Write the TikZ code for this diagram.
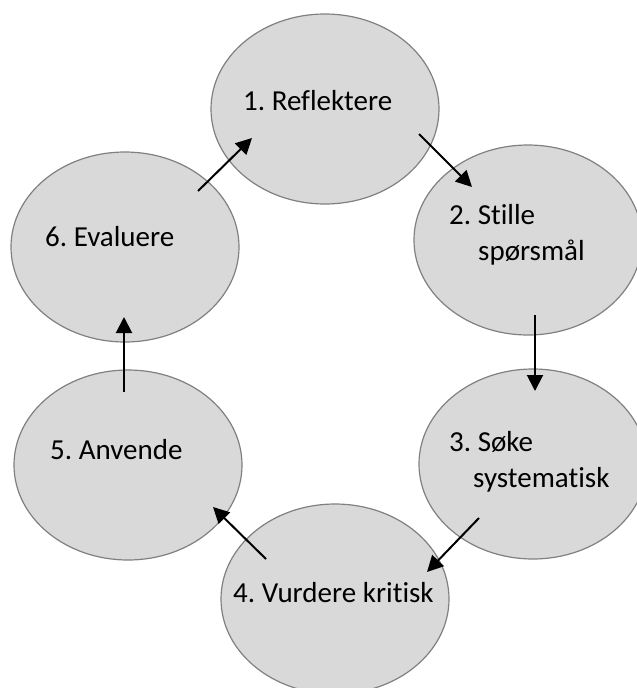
\documentclass[tikz,border=0pt]{standalone}
\usepackage{fontspec}
\setmainfont{Carlito}[Ligatures=NoCommon]
\frenchspacing
\usetikzlibrary{shapes.geometric, arrows.meta, calc}
\tikzstyle{stepEllipse} = [ellipse, minimum width=228pt, minimum height=190pt, inner sep=0pt, draw=black!50, line width=1.2pt, fill=black!15]
\tikzstyle{stepText} = [anchor=base west, inner sep=0pt, align=left, font=\fontsize{29}{36}\selectfont]
\tikzstyle{arrow} = [line width=2pt, -{Triangle[length=16pt, width=16pt]}]

\begin{document}
\begin{tikzpicture}[x=1pt, y=-1pt]
\useasboundingbox (0,0) rectangle (637,688);

\node (reflektere) [stepEllipse] at (325,109) {};
\node (stille) [stepEllipse] at (528,240) {};
\node (soke) [stepEllipse] at (533,464) {};
\node (vurdere) [stepEllipse] at (335,599) {};
\node (anvende) [stepEllipse] at (128,465) {};
\node (evaluere) [stepEllipse] at (125,247) {};

% base of a two-line node is the last line
\node (txtReflektere) [stepText] at (243,110) {1. Reflektere};
\node (txtStille) [stepText] at (449,260) {2. Stille\\\hspace*{29pt}spørsmål};
\node (txtSoke) [stepText] at (449,487) {3. Søke\\\hspace*{24pt}systematisk};
\node (txtVurdere) [stepText] at (233,602) {4. Vurdere kritisk};
\node (txtAnvende) [stepText] at (50,459) {5. Anvende};
\node (txtEvaluere) [stepText] at (45,246) {6. Evaluere};

\draw [arrow] ($(reflektere)+(94,25)$) -- ($(stille)+(-56,-53)$);
\draw [arrow] ($(stille)+(7,75)$) -- ($(soke)+(2,-73)$);
\draw [arrow] ($(soke)+(-54,54)$) -- ($(vurdere)+(92,-27)$);
\draw [arrow] ($(vurdere)+(-69,-40)$) -- ($(anvende)+(85,42)$);
\draw [arrow] ($(anvende)+(-4,-73)$) -- ($(evaluere)+(-1,70)$);
\draw [arrow] ($(evaluere)+(73,-56)$) -- ($(reflektere)+(-73,29)$);

\end{tikzpicture}
\end{document}
